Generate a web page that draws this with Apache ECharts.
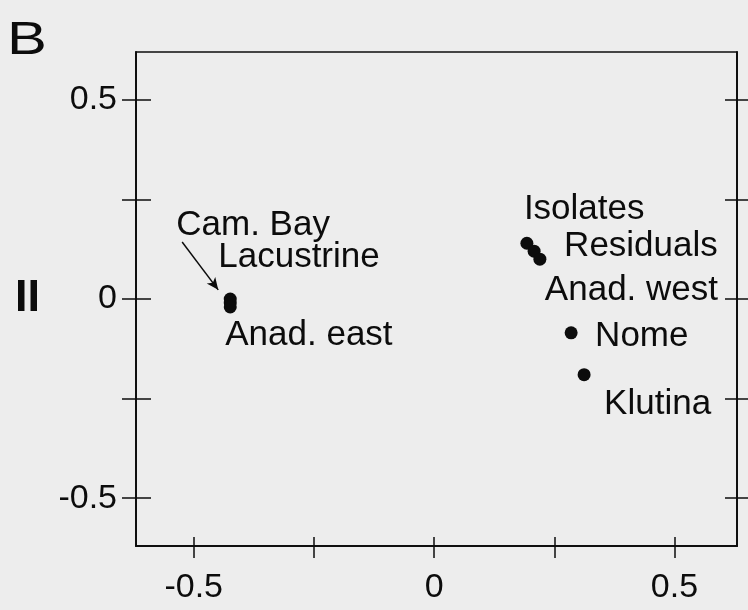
<!DOCTYPE html>
<html>
<head>
<meta charset="utf-8">
<script src="https://cdn.jsdelivr.net/npm/echarts@6/dist/echarts.min.js"></script>
<style>
  html, body { margin: 0; padding: 0; background: #ededed; }
  #chart { width: 748px; height: 610px; }
</style>
</head>
<body>
<div id="chart"></div>
<script>
// ---- data ----
const names   = ['Cam. Bay', 'Lacustrine', 'Anad. east', 'Isolates', 'Residuals', 'Anad. west', 'Nome', 'Klutina'];
const xValues = [-0.424, -0.424, -0.424, 0.193, 0.208, 0.220, 0.285, 0.312];
const yValues = [0.000, -0.010, -0.020, 0.140, 0.120, 0.100, -0.085, -0.190];
const xTickValues  = [-0.5, -0.25, 0, 0.25, 0.5];
const xLabelValues = [-0.5, 0, 0.5];
const yTickValues  = [-0.5, -0.25, 0, 0.25, 0.5];
const yLabelValues = [-0.5, 0, 0.5];
const arrowFrom = [-0.524, 0.143];
const arrowTo   = [-0.449, 0.023];

// ---- layout (label offsets in px from point centre) ----
const labelOffsets = [[-54, -74], [-12, -46], [-5, 28], [-3, -34], [30, -5], [5, 31], [24, 3], [20, 30]];

const FONT = "'Liberation Sans', Arial, Helvetica, sans-serif";
const INK = '#0c0c0c';
const xr = { min: -0.62, max: 0.63 };
const yr = { min: -0.62, max: 0.62 };
const fmt = v => (v === 0 ? '0' : String(v));

function xAx(inside, len, showLabel) {
  return {
    type: 'value', position: 'bottom', min: xr.min, max: xr.max,
    splitLine: { show: false },
    axisLine: { show: true, onZero: false, lineStyle: { color: INK, width: 1.5 } },
    axisTick: { show: true, inside: inside, length: len, customValues: xTickValues, lineStyle: { color: INK, width: 1.5 } },
    axisLabel: { show: showLabel, customValues: xLabelValues, formatter: fmt, margin: 25, color: INK, fontSize: 34, fontFamily: FONT }
  };
}
function yAx(pos, inside, len, showLabel) {
  return {
    type: 'value', position: pos, min: yr.min, max: yr.max,
    splitLine: { show: false },
    axisLine: { show: true, onZero: false, lineStyle: { color: INK, width: 1.5 } },
    axisTick: { show: true, inside: inside, length: len, customValues: yTickValues, lineStyle: { color: INK, width: 1.5 } },
    axisLabel: { show: showLabel, customValues: yLabelValues, formatter: fmt, margin: 19, color: INK, fontSize: 34, fontFamily: FONT }
  };
}

const points = names.map((n, i) => ({
  name: n,
  value: [xValues[i], yValues[i]],
  label: {
    show: true, formatter: n, position: 'inside', align: 'left', verticalAlign: 'middle',
    offset: labelOffsets[i], color: INK, opacity: 1, fontSize: 35, fontFamily: FONT
  }
}));

const chart = echarts.init(document.getElementById('chart'), null, { renderer: 'canvas' });
chart.setOption({
  backgroundColor: '#ededed',
  animation: false,
  grid: { left: 136, right: 11, top: 52, bottom: 64, show: true, borderColor: INK, borderWidth: 1.5, backgroundColor: 'transparent' },
  xAxis: [xAx(false, 12, true), xAx(true, 9, false)],
  yAxis: [yAx('left', false, 14, true), yAx('left', true, 15, false), yAx('right', true, 12, false), yAx('right', false, 11, false)],
  graphic: [
    { type: 'text', left: 7, top: 18, scaleX: 1.3, style: { text: 'B', fontSize: 46, fontFamily: FONT, fill: INK } },
    { type: 'text', left: 15, top: 276, style: { text: 'II', fontSize: 45, fontWeight: 'bold', fontFamily: FONT, fill: INK } }
  ],
  series: [{
    type: 'scatter',
    xAxisIndex: 0, yAxisIndex: 0,
    symbol: 'circle', symbolSize: 13,
    itemStyle: { color: INK, opacity: 1 },
    data: points,
    markLine: {
      silent: true, animation: false,
      label: { show: false },
      lineStyle: { color: INK, width: 1.5, type: 'solid', opacity: 1 },
      symbolSize: [8, 12],
      data: [[{ coord: arrowFrom, symbol: 'none' }, { coord: arrowTo, symbol: 'arrow' }]]
    }
  }]
});
</script>
</body>
</html>
